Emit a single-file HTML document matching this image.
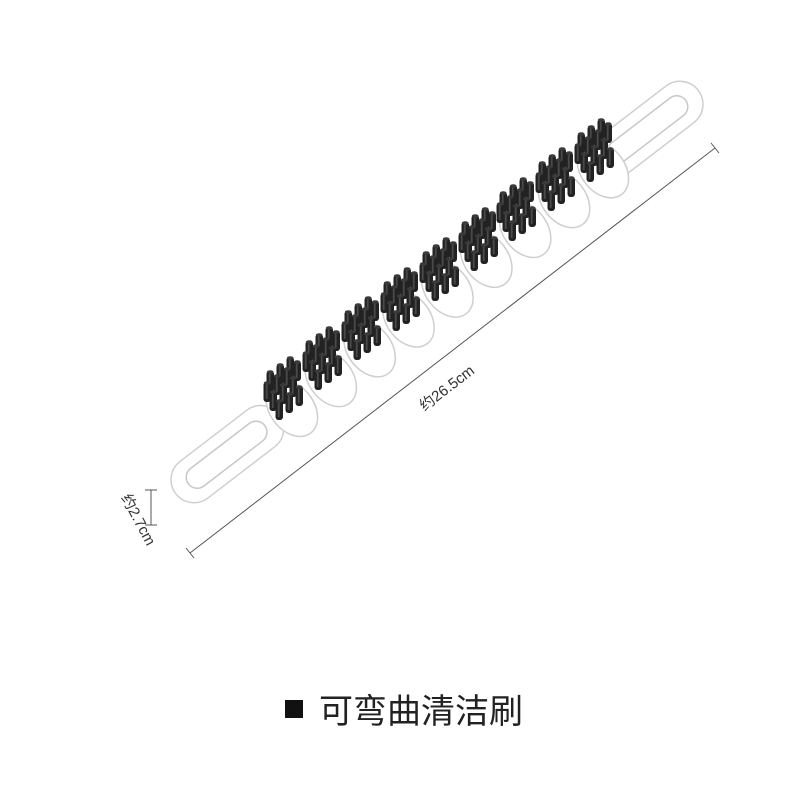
<!DOCTYPE html>
<html><head><meta charset="utf-8"><style>
html,body{margin:0;padding:0;background:#fff;}
svg{display:block}
</style></head><body>
<svg width="800" height="800" viewBox="0 0 800 800" xmlns="http://www.w3.org/2000/svg">
<defs>
<g id="b"><rect x="-3.5" y="-18" width="7.5" height="20" rx="3" fill="#222"/><rect x="-1.2" y="-16" width="1.8" height="15" fill="#4a4a4a"/><ellipse cx="0.2" cy="-17" rx="3.4" ry="1.8" fill="#3a3a3a"/></g>
<g id="c">
<use href="#b" x="-13" y="-12"/><use href="#b" x="-3" y="-19"/><use href="#b" x="7" y="-26"/>
<use href="#b" x="-16" y="-1"/><use href="#b" x="-6" y="-8"/><use href="#b" x="4" y="-15"/><use href="#b" x="14" y="-22"/>
<use href="#b" x="-10" y="8"/><use href="#b" x="0" y="1"/><use href="#b" x="10" y="-6"/>
<use href="#b" x="-4" y="17"/><use href="#b" x="6" y="10"/><use href="#b" x="16" y="3"/>
</g>
</defs>
<g transform="translate(437,292) rotate(-37.5)" fill="#fff" stroke="#cfcfcf" stroke-width="1.5">
<rect x="-330" y="-22" width="130" height="46" rx="23"/>
<rect x="200" y="-24" width="130" height="46" rx="23"/>
<rect x="-215" y="-8" width="430" height="18" fill="#fff" stroke="none"/>
<rect x="-314" y="-10" width="96" height="22" rx="11" fill="#fff" stroke="#c8c8c8"/>
<rect x="218" y="-12" width="96" height="22" rx="11" fill="#fff" stroke="#c8c8c8"/>
<g>
<ellipse cx="-186" cy="4" rx="22" ry="31"/><ellipse cx="-137" cy="4" rx="22" ry="31"/><ellipse cx="-88" cy="4" rx="22" ry="31"/>
<ellipse cx="-39" cy="4" rx="22" ry="31"/><ellipse cx="10" cy="4" rx="22" ry="31"/><ellipse cx="59" cy="4" rx="22" ry="31"/>
<ellipse cx="108" cy="4" rx="22" ry="31"/><ellipse cx="157" cy="4" rx="22" ry="31"/><ellipse cx="206" cy="4" rx="22" ry="31"/>
</g>
</g>
<use href="#c" x="283" y="401"/><use href="#c" x="322" y="371"/><use href="#c" x="361" y="341"/>
<use href="#c" x="400" y="312"/><use href="#c" x="439" y="282"/><use href="#c" x="478" y="252"/>
<use href="#c" x="516" y="222"/><use href="#c" x="555" y="192"/><use href="#c" x="594" y="163"/>
<g stroke="#555" stroke-width="1" fill="none">
<line x1="190" y1="553" x2="715" y2="148"/>
<line x1="186" y1="548" x2="194" y2="558"/>
<line x1="711" y1="143" x2="719" y2="153"/>
<line x1="151" y1="490" x2="151" y2="525"/>
<line x1="145" y1="490" x2="157" y2="490"/>
<line x1="145" y1="525" x2="157" y2="525"/>
</g>
<text x="450" y="392" transform="rotate(-37.5 450 392)" text-anchor="middle" font-family="'Liberation Sans','Noto Sans CJK SC',sans-serif" font-size="15" fill="#333">约26.5cm</text>
<text x="134" y="522" transform="rotate(62 134 522)" text-anchor="middle" font-family="'Liberation Sans','Noto Sans CJK SC',sans-serif" font-size="15" fill="#333">约2.7cm</text>
<rect x="285" y="700" width="18" height="18" fill="#111"/>
<text x="319" y="723" font-family="'Liberation Sans','Noto Sans CJK SC',sans-serif" font-size="34" fill="#222">可弯曲清洁刷</text>
</svg>
</body></html>
